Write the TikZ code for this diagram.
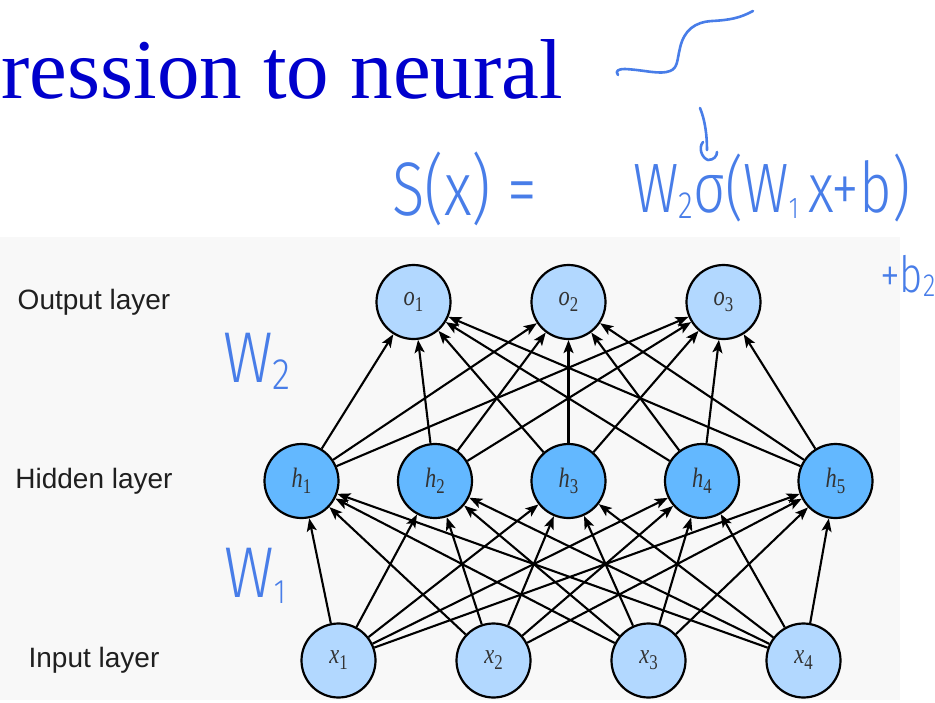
\documentclass[tikz,border=0pt]{standalone}
\usepackage{fontspec}
\setsansfont{Liberation Sans}
\newfontfamily\titlefont{Liberation Serif}
\newfontfamily\handfont{Fira Sans Light}
\usetikzlibrary{arrows.meta}
\definecolor{inputblue}{RGB}{178,216,255}
\definecolor{hiddenblue}{RGB}{99,184,255}
\definecolor{inkblue}{RGB}{72,125,232}
\definecolor{titleblue}{RGB}{0,0,204}
\definecolor{panelgrey}{RGB}{248,248,248}
% neuron label: italic letter with an upright index
\newcommand\unitlab[2]{\scalebox{0.8}[1]{\textit{#1}\raisebox{-6pt}{\fontsize{21}{21}\selectfont #2}}}
\begin{document}
\begin{tikzpicture}[x=1pt,y=-1pt,
  neuron/.style={circle,draw=black,line width=2.2pt,minimum size=74pt,inner sep=0pt,
    text=black!80,font=\titlefont\fontsize{28}{28}\selectfont},
  lightneuron/.style={neuron,fill=inputblue},
  darkneuron/.style={neuron,fill=hiddenblue},
  link/.style={-{Stealth[length=13pt,width=10pt,inset=3pt]},line width=2.1pt,black},
  layerlabel/.style={font=\sffamily\fontsize{28}{28}\selectfont,text=black!88},
  ink/.style={text=inkblue,inner sep=0pt,anchor=base west},
  stroke/.style={draw=inkblue,line width=2.6pt,line cap=round,line join=round}]
\useasboundingbox (0,0) rectangle (935,702);
% panel behind the network
\fill[panelgrey] (0,237) rectangle (900,700);
% slide title
\node[anchor=base west,inner sep=0pt,text=titleblue,
  font=\titlefont\fontsize{85}{85}\selectfont] (title) at (1,98) {ression to neural};
% layer names
\node[layerlabel] (lout) at (94,302) {Output layer};
\node[layerlabel] (lhid) at (94,481) {Hidden layer};
\node[layerlabel] (lin)  at (94,660) {Input layer};
% neurons
\foreach \i/\x in {1/338.5,2/493.5,3/648.5,4/803.5}
  \node[lightneuron] (x\i) at (\x,660.5) {\unitlab{x}{\i}};
\foreach \i/\x in {1/301.5,2/435,3/568.5,4/702,5/835.5}
  \node[darkneuron] (h\i) at (\x,481) {\unitlab{h}{\i}};
\foreach \i/\x in {1/413.5,2/568.5,3/723.5}
  \node[lightneuron] (o\i) at (\x,302) {\unitlab{o}{\i}};
% fully connected weights
\foreach \i in {1,...,4}
  \foreach \j in {1,...,5}
    \draw[link] (x\i) -- (h\j);
\foreach \i in {1,...,5}
  \foreach \j in {1,...,3}
    \draw[link] (h\i) -- (o\j);
% handwritten notes
\node[ink] (w2) at (223,382) {\scalebox{0.85}[1]{\handfont\fontsize{72}{72}\selectfont W\raisebox{-7pt}{\fontsize{44}{44}\selectfont 2}}};
\node[ink] (w1) at (224,597) {\scalebox{0.85}[1]{\handfont\fontsize{72}{72}\selectfont W\raisebox{-6pt}{\fontsize{34}{34}\selectfont 1}}};
\node[ink] (sx) at (392,215) {\scalebox{0.79}[1]{\handfont\fontsize{76}{76}\selectfont S(x) =}};
\node[ink] (net) at (633,212) {\scalebox{0.8}[1]{\handfont\fontsize{70}{70}\selectfont
  W\raisebox{-6pt}{\fontsize{38}{38}\selectfont 2}σ(W\raisebox{-6pt}{\fontsize{30}{30}\selectfont 1}\,x+b)}};
\node[ink] (b2) at (880,292) {\scalebox{0.8}[1]{\handfont\fontsize{50}{50}\selectfont +b\raisebox{-4pt}{\fontsize{32}{32}\selectfont 2}}};
% sketch of the sigmoid and the arrow pointing at sigma
\draw[stroke] (618,75) .. controls (615,71) and (618,69) .. (625,69)
  .. controls (645,70) and (660,75) .. (670,71)
  .. controls (678,68) and (677,60) .. (680,48)
  .. controls (684,30) and (695,22) .. (712,21)
  .. controls (730,20) and (740,18) .. (753,11);
\draw[stroke] (700,108) .. controls (705,120) and (707,135) .. (707,150);
\draw[stroke] (703,142) .. controls (698,148) and (702,158) .. (708,160)
  .. controls (714,160) and (717,156) .. (717,152);
\end{tikzpicture}
\end{document}
